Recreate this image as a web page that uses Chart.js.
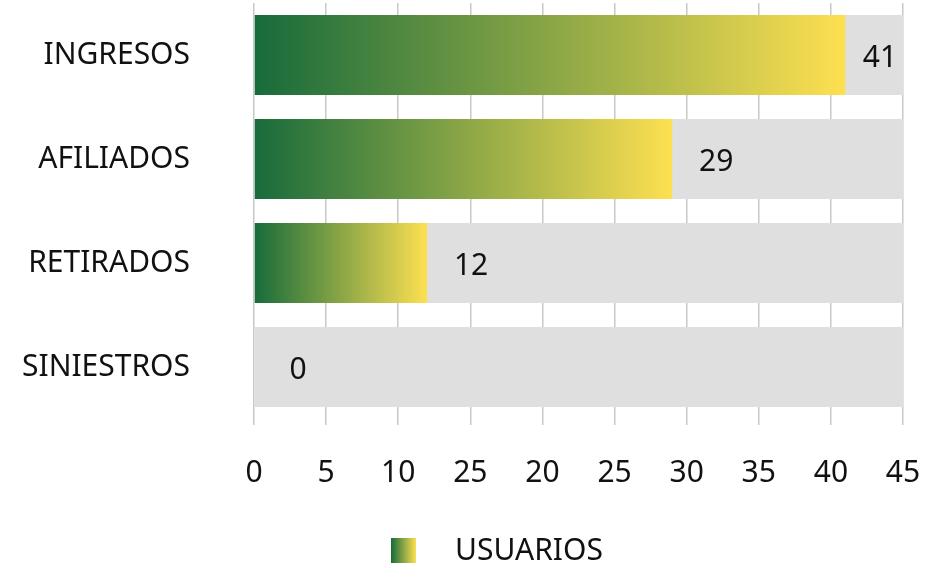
<!DOCTYPE html>
<html>
<head>
<meta charset="utf-8">
<style>
  html, body { margin: 0; padding: 0; background: #ffffff; }
  #wrap { width: 926px; height: 569px; }
</style>
<script src="https://cdn.jsdelivr.net/npm/chart.js@4.4.1/dist/chart.umd.min.js"></script>
</head>
<body>
<div id="wrap"><canvas id="c" width="926" height="569"></canvas></div>
<script>
const categories = ["INGRESOS", "AFILIADOS", "RETIRADOS", "SINIESTROS"];
const usuarios = [41, 29, 12, 0];
const trackValues = [45, 45, 45, 45];
const tickLabels = ["0", "5", "10", "25", "20", "25", "30", "35", "40", "45"];
const seriesName = "USUARIOS";

const FONT = "'Noto Sans', sans-serif";
const GREEN = "#176b3b";
const YELLOW = "#fde051";

function barGradient(context) {
  const chart = context.chart;
  const xs = chart.scales.x;
  if (!xs || !chart.chartArea) return GREEN;
  const v = context.raw || 0;
  const x0 = xs.getPixelForValue(0);
  const x1 = xs.getPixelForValue(v);
  if (x1 - x0 < 1) return GREEN;
  const g = chart.ctx.createLinearGradient(x0, 0, x1, 0);
  g.addColorStop(0, GREEN);
  g.addColorStop(1, YELLOW);
  return g;
}

const valueLabels = {
  id: "valueLabels",
  afterDatasetsDraw(chart) {
    const ctx = chart.ctx;
    const meta = chart.getDatasetMeta(0);
    ctx.save();
    ctx.font = "30px " + FONT;
    ctx.fillStyle = "#111111";
    ctx.textAlign = "center";
    ctx.textBaseline = "middle";
    meta.data.forEach((bar, i) => {
      let x = bar.x + 44;
      const maxX = chart.chartArea.right - 23;
      if (x > maxX) x = maxX;
      ctx.fillText(String(usuarios[i]), x, bar.y + 3);
    });
    ctx.restore();
  }
};

const customLegend = {
  id: "customLegend",
  afterDraw(chart) {
    const ctx = chart.ctx;
    const bx = 391, by = 538, bw = 25, bh = 25;
    const g = ctx.createLinearGradient(bx, 0, bx + bw, 0);
    g.addColorStop(0, GREEN);
    g.addColorStop(1, YELLOW);
    ctx.save();
    ctx.fillStyle = g;
    ctx.fillRect(bx, by, bw, bh);
    ctx.font = "30px " + FONT;
    ctx.fillStyle = "#111111";
    ctx.textAlign = "left";
    ctx.textBaseline = "middle";
    ctx.fillText(seriesName, 455, by + bh / 2 + 1);
    ctx.restore();
  }
};

new Chart(document.getElementById("c"), {
  type: "bar",
  data: {
    labels: categories,
    datasets: [
      {
        label: seriesName,
        data: usuarios,
        backgroundColor: barGradient,
        borderWidth: 0,
        grouped: false,
        order: 0,
        barPercentage: 0.77,
        categoryPercentage: 1.0
      },
      {
        label: "track",
        data: trackValues,
        backgroundColor: "#dfdfdf",
        borderWidth: 0,
        grouped: false,
        order: 1,
        barPercentage: 0.77,
        categoryPercentage: 1.0
      }
    ]
  },
  options: {
    indexAxis: "y",
    responsive: false,
    animation: false,
    devicePixelRatio: 1,
    layout: { padding: { top: 3, right: 23, bottom: 48, left: 0 } },
    plugins: {
      legend: { display: false },
      tooltip: { enabled: false }
    },
    scales: {
      x: {
        min: 0,
        max: 45,
        ticks: {
          stepSize: 5,
          autoSkip: false,
          maxRotation: 0,
          padding: 30,
          color: "#111111",
          font: { family: FONT, size: 30 },
          callback: (value, index) => tickLabels[index]
        },
        grid: {
          color: "#c8c8c8",
          lineWidth: 1.5,
          drawTicks: true,
          tickLength: 6,
          tickColor: "#c8c8c8"
        },
        border: { display: false },
        afterFit: (s) => { s.paddingLeft = 0; s.paddingRight = 0; }
      },
      y: {
        ticks: {
          padding: 56,
          color: "#111111",
          font: { family: FONT, size: 30 }
        },
        grid: { display: false },
        border: { display: false },
        afterFit: (s) => { s.paddingTop = 0; s.paddingBottom = 0; s.width = 254; }
      }
    }
  },
  plugins: [valueLabels, customLegend]
});
</script>
</body>
</html>
